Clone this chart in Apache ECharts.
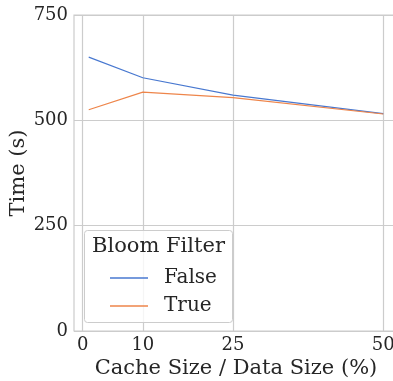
<!DOCTYPE html>
<html><head><meta charset="utf-8">
<script src="https://cdn.jsdelivr.net/npm/echarts@6/dist/echarts.min.js"></script>
<style>html,body{margin:0;padding:0;background:#fff}#c{width:393px;height:381px}</style>
</head><body><div id="c"></div>
<script>
const cacheSizes = [1, 10, 25, 50];
const timeFalse = [650, 601, 560, 516];
const timeTrue = [525, 567, 554, 515];
const xTicks = [0, 10, 25, 50];
const yTicks = [0, 250, 500, 750];
const seriesNames = ['False', 'True'];
const legendTitle = 'Bloom Filter';
const xTitle = 'Cache Size / Data Size (%)';
const yTitle = 'Time (s)';

const FONT = '"DejaVu Serif", serif';
const TXT = '#262626';
const GRID = '#cccccc';
const chart = echarts.init(document.getElementById('c'), null, {renderer: 'canvas'});
chart.setOption({
  animation: false,
  backgroundColor: '#ffffff',
  grid: {left: 74, top: 15, right: -5, bottom: 50, show: true, borderColor: GRID, borderWidth: 1.2,
         containLabel: false, outerBoundsMode: 'none'},
  xAxis: {
    type: 'value', min: -1.45, max: 52.45,
    name: xTitle, nameLocation: 'middle', nameGap: 27, nameMoveOverlap: false,
    nameTextStyle: {fontFamily: FONT, fontSize: 21, color: TXT},
    axisLine: {show: false}, axisTick: {show: false, customValues: xTicks},
    axisLabel: {customValues: xTicks, fontFamily: FONT, fontSize: 18, color: TXT, margin: 5, showMinLabel: true, showMaxLabel: true},
    splitLine: {show: true, lineStyle: {color: GRID, width: 1.2}}
  },
  yAxis: {
    type: 'value', min: 0, max: 750, interval: 250,
    name: yTitle, nameLocation: 'middle', nameGap: 45, nameRotate: 90, nameMoveOverlap: false,
    nameTextStyle: {fontFamily: FONT, fontSize: 21, color: TXT},
    axisLine: {show: false}, axisTick: {show: false},
    axisLabel: {fontFamily: FONT, fontSize: 18, color: TXT, margin: 6},
    splitLine: {show: true, lineStyle: {color: GRID, width: 1.2}}
  },
  legend: {
    orient: 'vertical', left: 105, top: 262, z: 30,
    icon: 'rect', itemWidth: 38, itemHeight: 1.5, itemGap: 6,
    textStyle: {fontFamily: FONT, fontSize: 20, color: TXT, padding: [0, 0, 0, 11], lineHeight: 22},
    data: seriesNames
  },
  graphic: [
    {type: 'rect', left: 84, top: 230, z: 10,
     shape: {width: 148, height: 92, r: 3},
     style: {fill: 'rgba(255,255,255,0.8)', stroke: GRID, lineWidth: 1}},
    {type: 'text', left: 92, top: 236, z: 11,
     style: {text: legendTitle, font: '21px ' + FONT, fill: TXT}}
  ],
  series: [
    {name: seriesNames[0], type: 'line', data: cacheSizes.map((x, i) => [x, timeFalse[i]]),
     symbol: 'none', lineStyle: {color: '#4878d0', width: 1.2}, itemStyle: {color: '#4878d0'}},
    {name: seriesNames[1], type: 'line', data: cacheSizes.map((x, i) => [x, timeTrue[i]]),
     symbol: 'none', lineStyle: {color: '#ee854a', width: 1.2}, itemStyle: {color: '#ee854a'}}
  ]
});
</script></body></html>
